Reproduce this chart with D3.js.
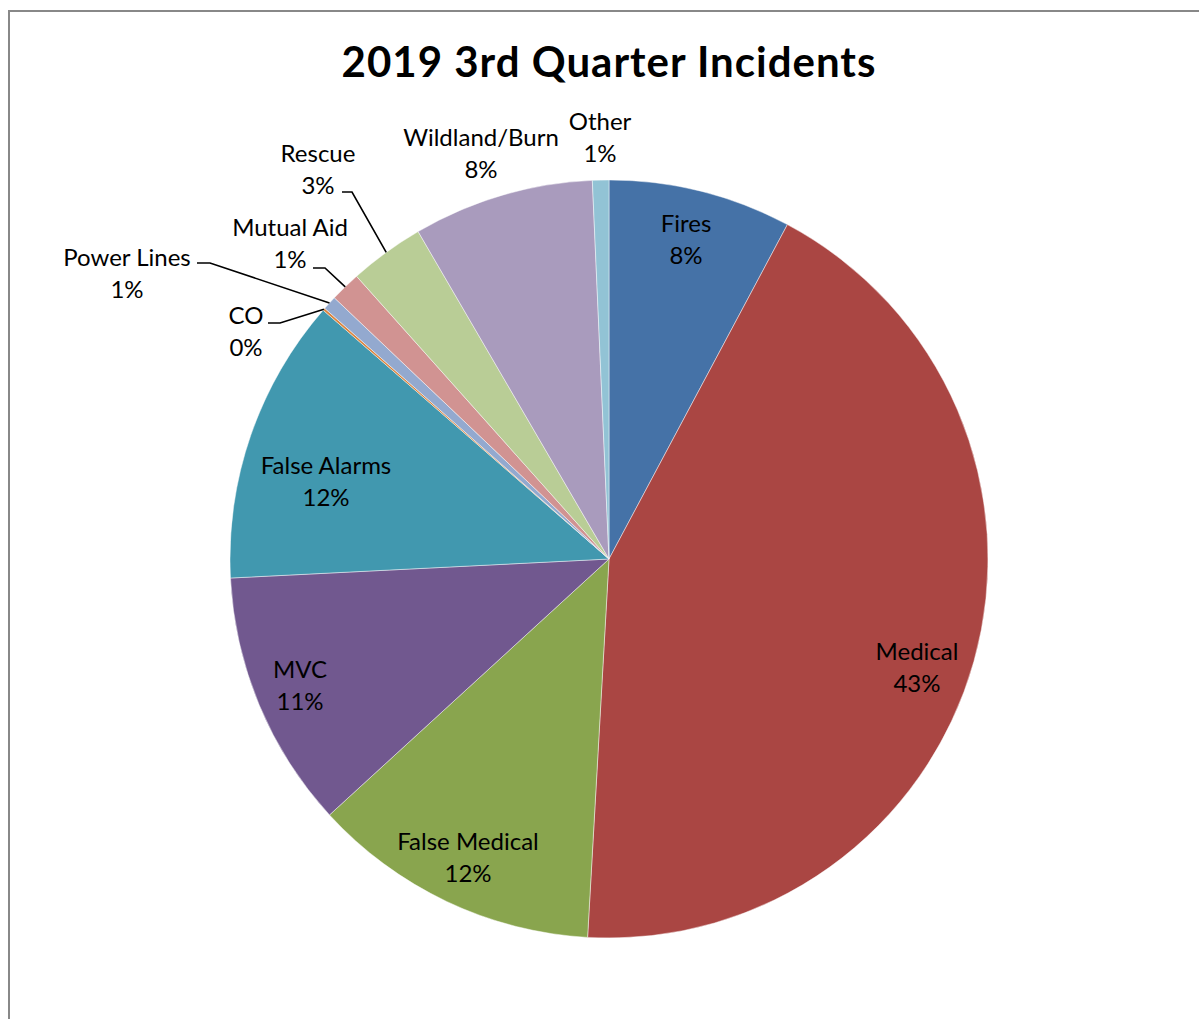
<!DOCTYPE html>
<html>
<head>
<meta charset="utf-8">
<script src="https://cdn.jsdelivr.net/npm/d3@7"></script>
<style>
  body { margin: 0; background: #fff; }
  svg { display: block; font-family: Lato, "Open Sans", sans-serif; }
</style>
</head>
<body>
<svg id="chart" width="1199" height="1019"></svg>
<script>
// incident categories, clockwise from 12 o'clock
const categories = ["Fires", "Medical", "False Medical", "MVC", "False Alarms", "CO",
                    "Power Lines", "Mutual Aid", "Rescue", "Wildland/Burn", "Other"];
// share of incidents (percent)
const values = [7.8, 43.1, 12.3, 11.0, 12.2, 0.1, 0.6, 1.3, 3.2, 7.7, 0.7];
const colors = ["#4572a7", "#aa4643", "#89a54e", "#71588f", "#4198af", "#db843d",
                "#93a9cf", "#d19392", "#b9cd96", "#a99bbd", "#92c3d5"];

const width = 1199, height = 1019;
const cx = 609, cy = 559, radius = 379;

// label centres relative to pie centre (placed like Excel did)
const labelOffset = {
  "Fires": [77, -319],
  "Medical": [308, 109],
  "False Medical": [-141, 299],
  "MVC": [-309, 127],
  "False Alarms": [-283, -77],
  "CO": [-363, -227],
  "Power Lines": [-482, -285],
  "Mutual Aid": [-319, -315],
  "Rescue": [-291, -389],
  "Wildland/Burn": [-128, -405],
  "Other": [-9, -421]
};
// leader lines: start at label side, short horizontal run, then to the slice
const leaders = {
  "CO": [[-341, -236], [-329, -236]],
  "Power Lines": [[-412, -296], [-399, -296]],
  "Mutual Aid": [[-296, -291], [-284, -291]],
  "Rescue": [[-267, -367], [-257, -367]]
};

const svg = d3.select("#chart");

// chart frame
svg.append("rect")
  .attr("x", 9).attr("y", 11)
  .attr("width", width + 20).attr("height", height + 20)
  .attr("fill", "none")
  .attr("stroke", "#888")
  .attr("stroke-width", 2);

svg.append("text")
  .attr("x", cx).attr("y", 77)
  .attr("text-anchor", "middle")
  .attr("font-size", "42px")
  .attr("font-weight", "bold")
  .attr("letter-spacing", "1px")
  .attr("fill", "#000")
  .text("2019 3rd Quarter Incidents");

const data = categories.map((c, i) => ({ name: c, value: values[i], color: colors[i] }));
const total = d3.sum(values);

const pie = d3.pie().value(d => d.value).sort(null);
const arc = d3.arc().innerRadius(0).outerRadius(radius);
const arcs = pie(data);

const g = svg.append("g").attr("transform", `translate(${cx},${cy})`);

g.selectAll(".slice")
  .data(arcs)
  .enter()
  .append("path")
  .attr("class", "slice")
  .attr("d", arc)
  .attr("fill", d => d.data.color)
  .attr("stroke", "#fff")
  .attr("stroke-opacity", 0.45)
  .attr("stroke-width", 1);

// leader lines end on the rim at the slice's mid angle
const rimPoint = d => {
  const a = (d.startAngle + d.endAngle) / 2;
  return [radius * Math.sin(a), -radius * Math.cos(a)];
};

g.selectAll(".leader")
  .data(arcs.filter(d => leaders[d.data.name]))
  .enter()
  .append("polyline")
  .attr("class", "leader")
  .attr("points", d => leaders[d.data.name].concat([rimPoint(d)]).map(p => p.join(",")).join(" "))
  .attr("fill", "none")
  .attr("stroke", "#000")
  .attr("stroke-width", 1.6);

const fmt = d3.format(".0%");
const labels = g.selectAll(".label")
  .data(arcs)
  .enter()
  .append("text")
  .attr("class", "label")
  .attr("text-anchor", "middle")
  .attr("font-size", "24px")
  .attr("fill", "#000");

labels.append("tspan")
  .attr("x", d => labelOffset[d.data.name][0])
  .attr("y", d => labelOffset[d.data.name][1] - 16 + 8)
  .text(d => d.data.name);

labels.append("tspan")
  .attr("x", d => labelOffset[d.data.name][0])
  .attr("y", d => labelOffset[d.data.name][1] + 16 + 8)
  .text(d => fmt(d.data.value / total));
</script>
</body>
</html>
